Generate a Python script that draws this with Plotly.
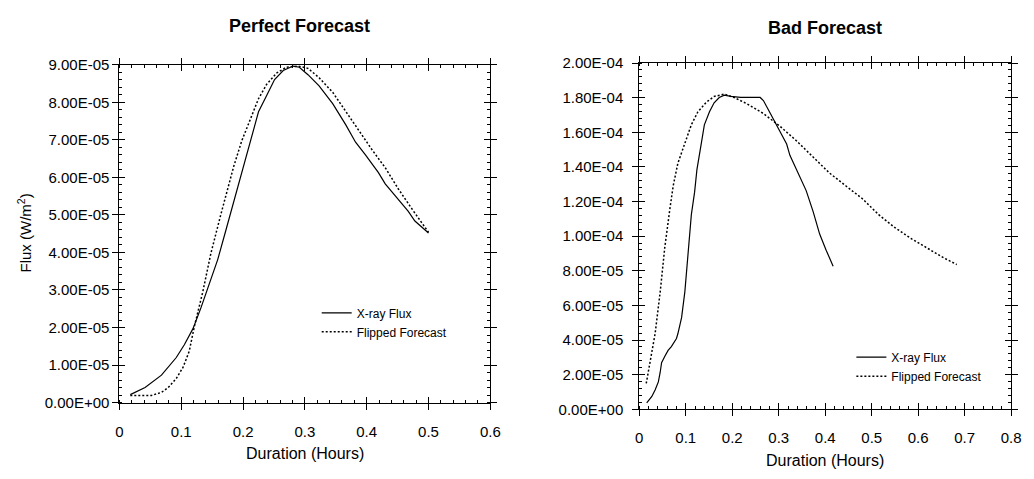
import plotly.graph_objects as go

# ---------------- data ----------------
perf_flux_x = [0.0176, 0.0415, 0.068, 0.079, 0.092, 0.105, 0.119, 0.132, 0.145, 0.159, 0.172,
               0.185, 0.201, 0.214, 0.225, 0.238, 0.251, 0.265, 0.281, 0.291, 0.305, 0.323,
               0.345, 0.366, 0.382, 0.398, 0.419, 0.430, 0.451, 0.467, 0.478, 0.500]
perf_flux_y = [2.1e-6, 4.0e-6, 7.3e-6, 9.4e-6, 1.2e-5, 1.54e-5, 1.97e-5, 2.53e-5, 3.13e-5, 3.81e-5,
               4.58e-5, 5.36e-5, 6.3e-5, 7.07e-5, 7.75e-5, 8.18e-5, 8.61e-5, 8.85e-5, 8.97e-5,
               8.94e-5, 8.74e-5, 8.44e-5, 7.97e-5, 7.41e-5, 6.94e-5, 6.6e-5, 6.13e-5, 5.83e-5,
               5.4e-5, 5.1e-5, 4.84e-5, 4.52e-5]
perf_fc_x = [0.0176, 0.052, 0.068, 0.079, 0.092, 0.103, 0.113, 0.121, 0.135, 0.148, 0.164, 0.177,
             0.185, 0.198, 0.212, 0.225, 0.238, 0.254, 0.270, 0.289, 0.305, 0.323, 0.345, 0.366,
             0.387, 0.409, 0.430, 0.451, 0.472, 0.488, 0.500]
perf_fc_y = [1.9e-6, 1.9e-6, 2.7e-6, 4.0e-6, 6.4e-6, 9.4e-6, 1.37e-5, 2.01e-5, 2.96e-5, 3.98e-5,
             5.01e-5, 5.78e-5, 6.3e-5, 6.98e-5, 7.58e-5, 8.1e-5, 8.48e-5, 8.78e-5, 8.94e-5,
             8.97e-5, 8.91e-5, 8.66e-5, 8.27e-5, 7.76e-5, 7.24e-5, 6.73e-5, 6.26e-5, 5.7e-5,
             5.19e-5, 4.8e-5, 4.54e-5]

bad_flux_x = [0.016, 0.027, 0.034, 0.041, 0.045, 0.048, 0.055, 0.062, 0.069, 0.080, 0.083, 0.091,
              0.098, 0.105, 0.112, 0.119, 0.124, 0.132, 0.140, 0.151, 0.161, 0.172, 0.183, 0.197,
              0.218, 0.260, 0.267, 0.282, 0.303, 0.317, 0.324, 0.338, 0.359, 0.374, 0.388, 0.402,
              0.417]
bad_flux_y = [3.7e-6, 7.4e-6, 1.11e-5, 1.58e-5, 2.14e-5, 2.69e-5, 3.06e-5, 3.4e-5, 3.62e-5, 4.09e-5,
              4.36e-5, 5.29e-5, 6.78e-5, 8.82e-5, 1.124e-4, 1.254e-4, 1.384e-4, 1.513e-4, 1.643e-4,
              1.718e-4, 1.77e-4, 1.801e-4, 1.814e-4, 1.807e-4, 1.801e-4, 1.801e-4, 1.783e-4,
              1.708e-4, 1.603e-4, 1.532e-4, 1.467e-4, 1.384e-4, 1.263e-4, 1.142e-4, 1.012e-4,
              9.19e-5, 8.26e-5]
bad_fc_x = [0.015, 0.023, 0.034, 0.045, 0.055, 0.066, 0.073, 0.083, 0.098, 0.112, 0.126, 0.144,
            0.161, 0.183, 0.204, 0.232, 0.267, 0.303, 0.338, 0.374, 0.409, 0.444, 0.480, 0.515,
            0.550, 0.586, 0.621, 0.656, 0.683]
bad_fc_y = [1.49e-5, 2.69e-5, 4.36e-5, 6.78e-5, 9.38e-5, 1.161e-4, 1.291e-4, 1.421e-4, 1.532e-4,
            1.643e-4, 1.718e-4, 1.773e-4, 1.807e-4, 1.82e-4, 1.801e-4, 1.764e-4, 1.708e-4,
            1.634e-4, 1.551e-4, 1.458e-4, 1.365e-4, 1.291e-4, 1.216e-4, 1.124e-4, 1.049e-4,
            9.84e-5, 9.29e-5, 8.73e-5, 8.36e-5]

left_yticks = [0, 1e-5, 2e-5, 3e-5, 4e-5, 5e-5, 6e-5, 7e-5, 8e-5, 9e-5]
left_yticktext = ["0.00E+00", "1.00E-05", "2.00E-05", "3.00E-05", "4.00E-05", "5.00E-05",
                  "6.00E-05", "7.00E-05", "8.00E-05", "9.00E-05"]
right_yticks = [0, 2e-5, 4e-5, 6e-5, 8e-5, 1e-4, 1.2e-4, 1.4e-4, 1.6e-4, 1.8e-4, 2e-4]
right_yticktext = ["0.00E+00", "2.00E-05", "4.00E-05", "6.00E-05", "8.00E-05", "1.00E-04",
                   "1.20E-04", "1.40E-04", "1.60E-04", "1.80E-04", "2.00E-04"]

series_names = ["X-ray Flux", "Flipped Forecast"]
titles = ["Perfect Forecast", "Bad Forecast"]
x_title = "Duration (Hours)"
y_title = "Flux (W/m<sup>2</sup>)"

# ---------------- figure ----------------
FONT = "Arial, Liberation Sans, sans-serif"
fig = go.Figure()

solid = dict(color="black", width=1.2)
dotted = dict(color="black", width=1.5, dash="2px,2px")

fig.add_trace(go.Scatter(x=perf_flux_x, y=perf_flux_y, mode="lines", line=solid,
                         name=series_names[0], xaxis="x", yaxis="y", legend="legend"))
fig.add_trace(go.Scatter(x=perf_fc_x, y=perf_fc_y, mode="lines", line=dotted,
                         name=series_names[1], xaxis="x", yaxis="y", legend="legend"))
fig.add_trace(go.Scatter(x=bad_flux_x, y=bad_flux_y, mode="lines", line=solid,
                         name=series_names[0], xaxis="x2", yaxis="y2", legend="legend2"))
fig.add_trace(go.Scatter(x=bad_fc_x, y=bad_fc_y, mode="lines", line=dotted,
                         name=series_names[1], xaxis="x2", yaxis="y2", legend="legend2"))
# empty traces so the overlay (inside-tick) axes are drawn
fig.add_trace(go.Scatter(x=[None], y=[None], xaxis="x3", yaxis="y3", showlegend=False))
fig.add_trace(go.Scatter(x=[None], y=[None], xaxis="x4", yaxis="y4", showlegend=False))

dom_l = [117 / 1034, 493 / 1034]
dom_r = [644 / 1034, 1021 / 1034]
ydom_l = [1 - 408 / 479, 1 - 58 / 479]
ydom_r = [1 - 415 / 479, 1 - 56 / 479]

tickfont = dict(family=FONT, size=15, color="black")


def xax(domain, anchor, rng, outside=True, overlay=None):
    d = dict(domain=domain, anchor=anchor, range=rng, tickmode="linear", tick0=0, dtick=0.1,
             showline=True, linecolor="black", linewidth=1, mirror="allticks",
             showgrid=False, zeroline=False, ticklen=6, tickwidth=1, tickcolor="black",
             tickfont=tickfont)
    if outside:
        d.update(ticks="outside", ticklabelstandoff=9,
                 minor=dict(ticks="inside", ticklen=3, tickmode="linear", tick0=0, dtick=0.02,
                            tickcolor="black", showgrid=False))
    else:
        d.update(ticks="inside", showticklabels=False, overlaying=overlay)
    return d


def yax(domain, anchor, rng, vals, text, minor_dt, standoff, outside=True, overlay=None):
    d = dict(domain=domain, anchor=anchor, range=rng, tickmode="array", tickvals=vals,
             ticktext=text, showline=True, linecolor="black", linewidth=1, mirror="allticks",
             showgrid=False, zeroline=False, ticklen=6, tickwidth=1, tickcolor="black",
             tickfont=tickfont)
    if outside:
        d.update(ticks="outside", ticklabelstandoff=standoff,
                 minor=dict(ticks="inside", ticklen=3, tickmode="linear", tick0=0,
                            dtick=minor_dt, tickcolor="black", showgrid=False))
    else:
        d.update(ticks="inside", showticklabels=False, overlaying=overlay)
    return d


xr_l = [0, 0.6]
xr_r = [0, 0.8]
yr_l = [0, 9e-5]
yr_r = [0, 2e-4]

fig.update_layout(
    width=1034, height=479, margin=dict(l=0, r=0, t=0, b=0),
    paper_bgcolor="white", plot_bgcolor="white",
    font=dict(family=FONT, color="black"),
    xaxis=xax(dom_l, "y", xr_l),
    yaxis=yax(ydom_l, "x", yr_l, left_yticks, left_yticktext, 2e-6, 0),
    xaxis2=xax(dom_r, "y2", xr_r),
    yaxis2=yax(ydom_r, "x2", yr_r, right_yticks, right_yticktext, 4e-6, 6),
    xaxis3=xax(dom_l, "y", xr_l, outside=False, overlay="x"),
    yaxis3=yax(ydom_l, "x", yr_l, left_yticks, left_yticktext, 2e-6, 0, outside=False, overlay="y"),
    xaxis4=xax(dom_r, "y2", xr_r, outside=False, overlay="x2"),
    yaxis4=yax(ydom_r, "x2", yr_r, right_yticks, right_yticktext, 4e-6, 0, outside=False, overlay="y2"),
    legend=dict(x=317 / 1034, y=1 - 300 / 479, xanchor="left", yanchor="top",
                bgcolor="rgba(0,0,0,0)", font=dict(family=FONT, size=12), itemwidth=30,
                tracegroupgap=0),
    legend2=dict(x=859 / 1034, y=1 - 346 / 479, xanchor="left", yanchor="top",
                 bgcolor="rgba(0,0,0,0)", font=dict(family=FONT, size=12), itemwidth=30,
                 tracegroupgap=0),
    showlegend=True,
)

ann = [
    dict(text="<b>" + titles[0] + "</b>", x=300 / 1034, y=1 - 18 / 479, font=dict(size=18)),
    dict(text="<b>" + titles[1] + "</b>", x=832 / 1034, y=1 - 20 / 479, font=dict(size=18)),
    dict(text=x_title, x=305 / 1034, y=1 - 461 / 479, font=dict(size=16)),
    dict(text=x_title, x=832 / 1034, y=1 - 468 / 479, font=dict(size=16)),
    dict(text=y_title, x=21 / 1034, y=1 - 232 / 479, font=dict(size=15), textangle=-90),
]
for a in ann:
    fig.add_annotation(xref="paper", yref="paper", showarrow=False, xanchor="center",
                       yanchor="middle", **a)

fig.write_html("out.html")
